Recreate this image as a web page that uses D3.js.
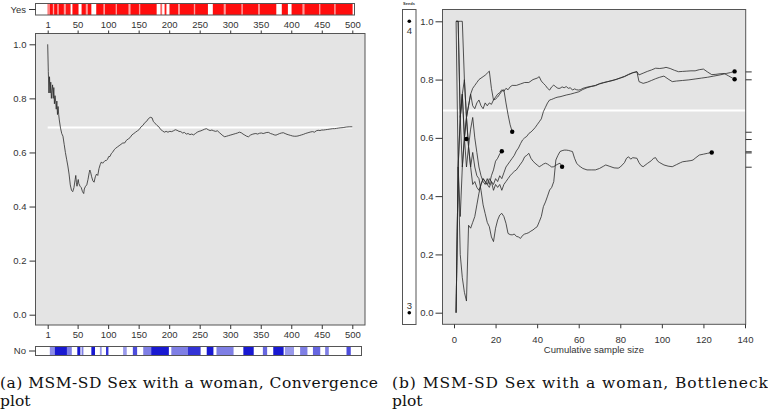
<!DOCTYPE html>
<html><head><meta charset="utf-8">
<script src="https://cdn.jsdelivr.net/npm/d3@7"></script>
<style>body{margin:0;background:#fff}svg{display:block}text{font-family:'Liberation Sans',Arial,sans-serif;fill:#333}</style>
</head><body><svg id="c" width="768" height="415"></svg>
<script>
// ---------- DATA ----------
const convTicks = [1,50,100,150,200,250,300,350,400,450,500];
const yTicks = [0,0.2,0.4,0.6,0.8,1.0];
const bottleXTicks = [0,20,40,60,80,100,120,140];
const refLeft = 0.692;
const refRight = 0.694;
// convergence estimate (observation index, estimate)
const conv = [[1,1.0],[2,0.90],[3,0.82],[4,0.88],[5,0.82],[6,0.86],[7,0.80],[8,0.83],[9,0.85],[10,0.80],[11,0.84],[12,0.78],[13,0.81],[14,0.79],[15,0.76],[16,0.79],[17,0.74],[18,0.77],[19,0.74],[20,0.72],[22,0.69],[24,0.67],[26,0.66],[28,0.63],[30,0.60],[32,0.575],[34,0.55],[36,0.52],[38,0.48],[40,0.46],[42,0.455],[44,0.47],[46,0.50],[47,0.515],[48,0.49],[49,0.475],[50,0.49],[51,0.50],[52,0.485],[54,0.475],[56,0.47],[58,0.455],[60,0.448],[61,0.465],[63,0.475],[65,0.48],[67,0.50],[69,0.525],[70,0.535],[71,0.53],[73,0.51],[75,0.495],[77,0.49],[79,0.51],[81,0.52],[83,0.515],[85,0.54],[87,0.555],[89,0.565],[91,0.56],[93,0.565],[95,0.57],[97,0.57],[99,0.575],[101,0.585],[103,0.585],[105,0.595],[107,0.60],[110,0.61],[112,0.615],[115,0.62],[118,0.625],[121,0.63],[124,0.635],[127,0.635],[130,0.645],[133,0.65],[136,0.655],[139,0.665],[142,0.67],[145,0.675],[148,0.68],[151,0.685],[154,0.695],[157,0.70],[160,0.71],[163,0.715],[166,0.725],[169,0.73],[172,0.728],[174,0.715],[176,0.71],[178,0.705],[180,0.70],[183,0.695],[186,0.685],[189,0.68],[192,0.675],[195,0.678],[198,0.675],[201,0.678],[204,0.677],[207,0.68],[210,0.684],[213,0.682],[216,0.678],[219,0.677],[222,0.672],[225,0.674],[228,0.668],[231,0.670],[234,0.666],[237,0.668],[240,0.665],[243,0.670],[246,0.675],[249,0.678],[252,0.680],[255,0.683],[258,0.686],[261,0.688],[264,0.684],[267,0.681],[270,0.683],[273,0.680],[276,0.678],[279,0.680],[282,0.674],[285,0.668],[288,0.662],[291,0.658],[294,0.66],[297,0.662],[300,0.664],[303,0.666],[306,0.668],[309,0.67],[312,0.672],[315,0.675],[318,0.673],[321,0.668],[324,0.664],[327,0.66],[330,0.658],[333,0.664],[336,0.667],[339,0.669],[342,0.67],[345,0.668],[348,0.671],[351,0.672],[354,0.670],[357,0.672],[360,0.674],[363,0.674],[366,0.67],[369,0.668],[372,0.665],[375,0.664],[378,0.667],[381,0.67],[384,0.672],[387,0.673],[390,0.67],[393,0.667],[396,0.665],[399,0.663],[402,0.661],[405,0.66],[408,0.66],[411,0.661],[414,0.663],[417,0.665],[420,0.667],[423,0.67],[426,0.672],[429,0.674],[432,0.676],[435,0.677],[438,0.675],[441,0.68],[444,0.682],[447,0.681],[450,0.683],[453,0.683],[456,0.684],[459,0.685],[462,0.686],[465,0.687],[468,0.688],[471,0.688],[474,0.689],[477,0.690],[480,0.691],[485,0.692],[490,0.694],[495,0.695],[500,0.695]];
// strip runs: [first index, last index, opacity]
const yesRuns = [[1,4,0.5],[5,9,0.95],[10,11,0.35],[12,16,0.95],[17,19,0.5],[20,27,0.95],[28,30,0.4],[31,38,0.9],[42,51,0.95],[57,63,0.95],[64,66,0.4],[67,72,0.95],[81,92,0.95],[93,94,0.3],[95,112,0.95],[113,114,0.4],[115,133,0.95],[134,136,0.35],[137,150,0.95],[151,152,0.4],[153,179,0.95],[186,188,0.6],[193,195,0.9],[201,214,0.95],[215,217,0.4],[218,240,0.95],[241,242,0.4],[243,263,0.95],[272,289,0.95],[290,292,0.4],[293,318,0.95],[319,320,0.4],[321,345,0.95],[346,348,0.45],[349,375,0.95],[385,394,0.95],[401,418,0.95],[419,421,0.4],[422,445,0.95],[446,447,0.4],[448,470,0.95],[471,472,0.4],[473,500,0.95]];
const noRuns = [[5,12,0.45],[13,32,0.9],[33,40,0.5],[50,54,0.9],[57,59,0.5],[73,78,0.9],[87,89,0.4],[97,100,0.8],[125,130,0.4],[141,147,0.7],[158,170,0.5],[171,199,0.9],[204,230,0.5],[231,251,0.8],[262,272,0.9],[278,305,0.5],[322,338,0.9],[354,360,0.6],[371,387,0.9],[390,404,0.4],[415,426,0.5],[436,447,0.6],[456,461,0.5],[491,497,0.7]];
// bottleneck lines per seed (cumulative sample size, estimate)
const seed1 = [[1,1],[2,1],[3,0.67],[4,0.5],[5,0.6],[6,0.67],[7,0.71],[8,0.75],[9,0.71],[10,0.70],[11,0.72],[12,0.73],[13,0.71],[14,0.70],[15,0.72],[16,0.71],[17,0.72],[18,0.715],[19,0.73],[20,0.74],[21,0.75],[22,0.755],[23,0.765],[24,0.76],[25,0.77],[26,0.765],[27,0.775],[28,0.78],[30,0.78],[32,0.785],[34,0.79],[36,0.79],[38,0.80],[40,0.805],[41,0.81],[42,0.795],[43,0.787],[44,0.78],[45,0.77],[46,0.764],[47,0.775],[48,0.781],[49,0.775],[50,0.77],[51,0.77],[52,0.775],[53,0.772],[54,0.776],[55,0.77],[56,0.772],[57,0.764],[58,0.768],[59,0.765],[60,0.764],[61,0.766],[62,0.770],[64,0.774],[66,0.777],[68,0.780],[70,0.786],[72,0.790],[74,0.793],[76,0.797],[78,0.800],[80,0.806],[82,0.811],[84,0.818],[86,0.824],[88,0.827],[89,0.793],[90,0.790],[91,0.787],[93,0.791],[95,0.797],[97,0.803],[99,0.808],[101,0.812],[103,0.802],[105,0.793],[107,0.795],[110,0.797],[113,0.799],[116,0.802],[119,0.805],[122,0.808],[125,0.812],[128,0.816],[131,0.821],[133,0.824],[135,0.828]];
const seed2 = [[1,1],[2,1],[3,1],[4,1],[5,0.8],[6,0.67],[7,0.57],[8,0.5],[9,0.44],[10,0.45],[11,0.43],[12,0.42],[13,0.44],[14,0.46],[15,0.45],[16,0.44],[17,0.46],[18,0.45],[19,0.44],[20,0.46],[21,0.45],[22,0.47],[23,0.46],[24,0.48],[25,0.50],[26,0.51],[27,0.52],[28,0.53],[29,0.54],[30,0.555],[31,0.565],[32,0.58],[33,0.593],[34,0.60],[35,0.605],[36,0.615],[37,0.62],[38,0.627],[39,0.635],[40,0.645],[41,0.655],[42,0.665],[43,0.69],[44,0.705],[45,0.72],[46,0.73],[47,0.732],[48,0.735],[49,0.738],[50,0.740],[51,0.741],[52,0.743],[54,0.747],[56,0.750],[58,0.754],[60,0.758],[62,0.766],[64,0.772],[66,0.776],[68,0.779],[70,0.785],[72,0.789],[74,0.793],[76,0.796],[78,0.801],[80,0.805],[82,0.810],[84,0.817],[86,0.823],[88,0.827],[89,0.816],[91,0.822],[93,0.828],[95,0.833],[97,0.839],[99,0.838],[101,0.84],[102,0.842],[104,0.838],[106,0.832],[108,0.827],[110,0.828],[112,0.829],[114,0.83],[116,0.83],[118,0.834],[120,0.836],[122,0.826],[124,0.817],[126,0.818],[128,0.820],[130,0.821],[132,0.813],[134,0.805],[135,0.801]];
const seed3 = [[1,1],[2,1],[3,0.67],[4,0.75],[5,0.6],[6,0.5],[7,0.57],[8,0.5],[9,0.55],[10,0.5],[11,0.47],[12,0.46],[13,0.42],[14,0.37],[15,0.34],[16,0.31],[17,0.295],[18,0.26],[19,0.244],[20,0.29],[21,0.318],[22,0.335],[23,0.341],[24,0.33],[25,0.307],[26,0.272],[27,0.268],[28,0.267],[29,0.27],[30,0.262],[31,0.26],[32,0.255],[33,0.265],[34,0.27],[35,0.272],[36,0.275],[37,0.28],[38,0.284],[39,0.29],[40,0.295],[41,0.312],[42,0.33],[43,0.364],[44,0.38],[45,0.40],[46,0.421],[47,0.43],[48,0.45],[49,0.524],[50,0.54],[51,0.553],[52,0.556],[53,0.558],[54,0.558],[55,0.557],[56,0.555],[57,0.553],[58,0.53],[59,0.513],[60,0.505],[61,0.50],[62,0.495],[64,0.49],[66,0.49],[68,0.49],[70,0.495],[72,0.503],[73,0.507],[75,0.502],[77,0.497],[79,0.496],[80,0.50],[82,0.515],[83,0.53],[84,0.535],[85,0.527],[86,0.532],[88,0.530],[89,0.515],[90,0.505],[91,0.501],[93,0.512],[95,0.522],[96,0.53],[97,0.532],[98,0.52],[99,0.515],[101,0.507],[103,0.503],[105,0.501],[107,0.508],[109,0.515],[110,0.518],[112,0.52],[114,0.522],[115,0.524],[116,0.53],[118,0.541],[120,0.544],[122,0.547],[124,0.550]];
const seed4 = [[1,0],[2,0.5],[3,0.2],[4,0.12],[5,0.07],[6,0.04],[7,0.3],[8,0.29],[9,0.31],[10,0.33],[11,0.37],[12,0.41],[13,0.44],[14,0.46],[15,0.45],[16,0.44],[17,0.43],[18,0.45],[19,0.42],[20,0.44],[21,0.43],[22,0.44],[23,0.42],[24,0.44],[25,0.45],[26,0.46],[27,0.47],[28,0.478],[29,0.485],[30,0.49],[31,0.50],[32,0.51],[33,0.52],[34,0.535],[35,0.54],[36,0.547],[37,0.53],[38,0.52],[39,0.513],[40,0.507],[41,0.501],[42,0.505],[43,0.51],[44,0.513],[45,0.51],[46,0.505],[47,0.50],[48,0.501],[49,0.506],[50,0.51],[51,0.513],[52,0.501]];
const seed5 = [[1,1],[2,0.5],[3,0.67],[4,0.75],[5,0.8],[6,0.67],[7,0.71],[8,0.75],[9,0.77],[10,0.78],[11,0.79],[12,0.80],[13,0.805],[14,0.81],[15,0.815],[16,0.822],[17,0.829],[18,0.77],[19,0.73],[20,0.733],[21,0.74],[22,0.75],[23,0.76],[24,0.765],[25,0.72],[26,0.68],[27,0.645],[28,0.621]];
const seed6 = [[1,0],[2,0.5],[3,0.67],[4,0.75],[5,0.6],[6,0.67],[7,0.57],[8,0.63],[9,0.67],[10,0.6],[11,0.55],[12,0.5],[13,0.47],[14,0.45],[15,0.44],[16,0.46],[17,0.44],[18,0.47],[19,0.49],[20,0.52],[21,0.53],[22,0.545],[23,0.554]];
const seed7 = [[1,0],[2,0.5],[3,0.33],[4,0.5],[5,0.6],[6,0.596]];
const seeds = [seed1,seed2,seed3,seed4,seed5,seed6,seed7];
const seedStartCounts = [["4",1.0],["3",0.0]];

// ---------- DRAW ----------
const svg = d3.select("#c");
const ink = "#333", frame = "#555", panelFill = "#e4e4e4";
const fs = 9.5;

// ===== Left: convergence plot =====
const xL = d3.scaleLinear().domain([1,500]).range([47.7,352.3]);
const yL = d3.scaleLinear().domain([0,1]).range([314.7,44.3]);

function styleAxis(g){
  g.select(".domain").remove();
  g.selectAll(".tick line").attr("stroke",ink);
  g.selectAll(".tick text").attr("fill",ink).style("font-size",fs+"px").style("font-family","'Liberation Sans',Arial,sans-serif");
}

// Yes strip
const yesG = svg.append("g");
yesG.append("rect").attr("x",35.5).attr("y",3.5).attr("width",319).attr("height",11.5).attr("fill","#fff");
yesG.selectAll("rect.b").data(yesRuns).join("rect").attr("class","b")
  .attr("x",d=>xL(d[0]-0.5)).attr("width",d=>xL(d[1]+0.5)-xL(d[0]-0.5))
  .attr("y",3.5).attr("height",11.5).attr("fill","#ff0000").attr("fill-opacity",d=>d[2]);
yesG.append("rect").attr("x",35.5).attr("y",3.5).attr("width",319).attr("height",11.5).attr("fill","none").attr("stroke",frame);
svg.append("line").attr("x1",29).attr("x2",35.5).attr("y1",9.5).attr("y2",9.5).attr("stroke",ink);
svg.append("text").attr("x",26).attr("y",9.5).attr("dy","0.35em").attr("text-anchor","end").style("font-size",fs+"px").text("Yes");

// No strip
const noG = svg.append("g");
noG.append("rect").attr("x",35.5).attr("y",346.5).attr("width",326).attr("height",9).attr("fill","#fff");
noG.selectAll("rect.b").data(noRuns).join("rect").attr("class","b")
  .attr("x",d=>xL(d[0]-0.5)).attr("width",d=>xL(d[1]+0.5)-xL(d[0]-0.5))
  .attr("y",346.5).attr("height",9).attr("fill","#0000cc").attr("fill-opacity",d=>d[2]);
noG.append("rect").attr("x",35.5).attr("y",346.5).attr("width",326).attr("height",9).attr("fill","none").attr("stroke",frame);
svg.append("line").attr("x1",29).attr("x2",35.5).attr("y1",351).attr("y2",351).attr("stroke",ink);
svg.append("text").attr("x",26).attr("y",351).attr("dy","0.35em").attr("text-anchor","end").style("font-size",fs+"px").text("No");

// main panel
svg.append("rect").attr("x",35.5).attr("y",33.5).attr("width",329.5).attr("height",291.5).attr("fill",panelFill);
svg.append("line").attr("x1",xL(1)).attr("x2",xL(500)).attr("y1",yL(refLeft)).attr("y2",yL(refLeft)).attr("stroke","#fff").attr("stroke-width",2);
svg.append("path").datum(conv).attr("fill","none").attr("stroke","#2a2a2a").attr("stroke-width",0.8)
  .attr("d",d3.line().x(d=>xL(d[0])).y(d=>yL(d[1])));
svg.append("rect").attr("x",35.5).attr("y",33.5).attr("width",329.5).attr("height",291.5).attr("fill","none").attr("stroke",frame);

svg.append("g").attr("transform","translate(35.5,0)")
  .call(d3.axisLeft(yL).tickValues(yTicks).tickFormat(d3.format(".1f")).tickSize(6).tickPadding(3)).call(styleAxis);
svg.append("g").attr("transform","translate(0,33.5)")
  .call(d3.axisTop(xL).tickValues(convTicks).tickFormat(d3.format("d")).tickSize(3).tickPadding(3)).call(styleAxis);
svg.append("g").attr("transform","translate(0,325)")
  .call(d3.axisBottom(xL).tickValues(convTicks).tickFormat(d3.format("d")).tickSize(4).tickPadding(2)).call(styleAxis);

// ===== Right: bottleneck plot =====
const xR = d3.scaleLinear().domain([0,140]).range([454,745]);
const yR = d3.scaleLinear().domain([0,1]).range([312.7,21.3]);

// seeds box
svg.append("rect").attr("x",402.5).attr("y",9.5).attr("width",13.5).attr("height",315).attr("fill","#fff").attr("stroke",frame);
svg.append("text").attr("x",409).attr("y",5).attr("text-anchor","middle").style("font-size","4px").style("font-weight","bold").text("Seeds");
svg.selectAll("circle.seedc").data(seedStartCounts).join("circle").attr("class","seedc")
  .attr("cx",409.3).attr("cy",d=>yR(d[1])).attr("r",1.8).attr("fill","#000");
svg.selectAll("text.seedn").data(seedStartCounts).join("text").attr("class","seedn")
  .attr("x",409.3).attr("y",d=>yR(d[1]) + (d[1]>0.5 ? 9 : -7)).attr("text-anchor","middle")
  .attr("dy","0.35em").style("font-size",fs+"px").text(d=>d[0]);

svg.append("rect").attr("x",442.5).attr("y",9.5).attr("width",303.2).attr("height",314.8).attr("fill",panelFill);
svg.append("line").attr("x1",442.5).attr("x2",745.7).attr("y1",yR(refRight)).attr("y2",yR(refRight)).attr("stroke","#fff").attr("stroke-width",2);
const lineR = d3.line().x(d=>xR(d[0])).y(d=>yR(d[1]));
svg.selectAll("path.seed").data(seeds).join("path").attr("class","seed")
  .attr("fill","none").attr("stroke","#2a2a2a").attr("stroke-width",0.8).attr("d",lineR);
svg.selectAll("circle.end").data(seeds).join("circle").attr("class","end")
  .attr("cx",d=>xR(d[d.length-1][0])).attr("cy",d=>yR(d[d.length-1][1])).attr("r",2.2).attr("fill","#000");
svg.append("rect").attr("x",442.5).attr("y",9.5).attr("width",303.2).attr("height",314.8).attr("fill","none").attr("stroke",frame);

svg.append("g").attr("transform","translate(442.5,0)")
  .call(d3.axisLeft(yR).tickValues(yTicks).tickFormat(d3.format(".1f")).tickSize(7).tickPadding(2)).call(styleAxis);
svg.append("g").attr("transform","translate(0,324.3)")
  .call(d3.axisBottom(xR).tickValues(bottleXTicks).tickFormat(d3.format("d")).tickSize(4).tickPadding(8)).call(styleAxis);
svg.append("g").attr("transform","translate(745.7,0)")
  .call(d3.axisRight(yR).tickValues(seeds.map(s=>s[s.length-1][1])).tickFormat("").tickSize(6)).call(styleAxis);
svg.append("text").attr("x",594).attr("y",350).attr("dy","0.35em").attr("text-anchor","middle").style("font-size",fs+"px").text("Cumulative sample size");

// ===== Captions =====
function cap(x,y,t,len){
  const el = svg.append("text").attr("x",x).attr("y",y).style("font-family","'DejaVu Serif',serif").style("font-size","15.5px").style("fill","#111").text(t);
  if(len) el.attr("textLength",len).attr("lengthAdjust","spacing");
}
cap(0,388,"(a) MSM-SD Sex with a woman, Convergence",378);
cap(0,406,"plot");
cap(392,388,"(b) MSM-SD Sex with a woman, Bottleneck",376);
cap(392,406,"plot");
</script></body></html>
